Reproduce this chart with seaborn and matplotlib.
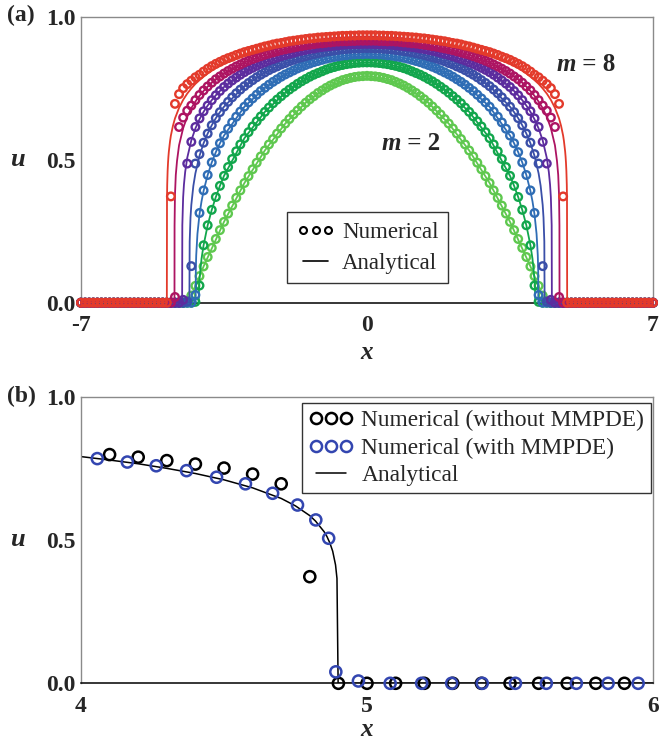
import numpy as np
import pandas as pd
import seaborn as sns
import matplotlib.pyplot as plt
from matplotlib.lines import Line2D

# ---------------- data ----------------
m_values = [2, 3, 4, 5, 6, 7, 8]
colors = ["#5fc84f", "#12a64c", "#2f6db5", "#3a4fa8", "#5c2c9e", "#ad1462", "#e33a2b"]

# numerical solution on the uniform grid, x >= 0 half (x = 0.0, 0.1, 0.2, ...);
# the profiles are symmetric about x = 0 and zero beyond the listed points
num_m2 = [0.794, 0.793, 0.792, 0.790, 0.787, 0.783, 0.779, 0.773, 0.767, 0.760,
          0.752, 0.743, 0.734, 0.723, 0.712, 0.700, 0.687, 0.673, 0.659, 0.643,
          0.627, 0.610, 0.592, 0.573, 0.554, 0.533, 0.512, 0.490, 0.467, 0.443,
          0.419, 0.393, 0.367, 0.340, 0.312, 0.283, 0.254, 0.223, 0.192, 0.160,
          0.127, 0.093, 0.059, 0.025, 0.004]
num_m3 = [0.841, 0.841, 0.840, 0.839, 0.837, 0.835, 0.832, 0.829, 0.825, 0.821,
          0.816, 0.810, 0.804, 0.798, 0.791, 0.783, 0.775, 0.766, 0.756, 0.746,
          0.735, 0.723, 0.711, 0.698, 0.683, 0.668, 0.652, 0.635, 0.617, 0.597,
          0.576, 0.554, 0.530, 0.503, 0.475, 0.444, 0.409, 0.370, 0.325, 0.271,
          0.201, 0.060, 0.003]
num_m4 = [0.871, 0.870, 0.870, 0.869, 0.868, 0.866, 0.865, 0.862, 0.860, 0.857,
          0.854, 0.850, 0.846, 0.842, 0.837, 0.832, 0.826, 0.820, 0.813, 0.806,
          0.799, 0.791, 0.782, 0.773, 0.763, 0.752, 0.741, 0.728, 0.715, 0.701,
          0.686, 0.669, 0.651, 0.631, 0.609, 0.585, 0.558, 0.527, 0.491, 0.447,
          0.393, 0.314, 0.027]
num_m5 = [0.891, 0.891, 0.890, 0.890, 0.889, 0.888, 0.887, 0.885, 0.883, 0.881,
          0.879, 0.876, 0.873, 0.870, 0.867, 0.863, 0.859, 0.855, 0.850, 0.845,
          0.839, 0.834, 0.827, 0.821, 0.814, 0.806, 0.798, 0.789, 0.779, 0.769,
          0.758, 0.746, 0.733, 0.719, 0.703, 0.686, 0.667, 0.646, 0.621, 0.592,
          0.560, 0.520, 0.487, 0.128, 0.004]
num_m6 = [0.906, 0.906, 0.905, 0.905, 0.904, 0.904, 0.903, 0.901, 0.900, 0.898,
          0.897, 0.895, 0.893, 0.890, 0.888, 0.885, 0.882, 0.879, 0.875, 0.871,
          0.867, 0.863, 0.858, 0.853, 0.848, 0.842, 0.836, 0.829, 0.822, 0.815,
          0.807, 0.798, 0.788, 0.778, 0.767, 0.755, 0.741, 0.726, 0.709, 0.690,
          0.670, 0.645, 0.615, 0.563, 0.487, 0.010]
num_m7 = [0.917, 0.917, 0.917, 0.916, 0.916, 0.915, 0.915, 0.914, 0.913, 0.911,
          0.910, 0.908, 0.907, 0.905, 0.903, 0.901, 0.898, 0.896, 0.893, 0.890,
          0.887, 0.884, 0.880, 0.876, 0.872, 0.868, 0.863, 0.858, 0.853, 0.847,
          0.841, 0.834, 0.827, 0.819, 0.811, 0.802, 0.792, 0.782, 0.770, 0.757,
          0.743, 0.727, 0.709, 0.690, 0.672, 0.648, 0.615, 0.020]
num_m8 = [0.936, 0.936, 0.936, 0.935, 0.935, 0.934, 0.934, 0.933, 0.932, 0.931,
          0.930, 0.929, 0.928, 0.926, 0.925, 0.923, 0.921, 0.919, 0.917, 0.915,
          0.912, 0.909, 0.907, 0.904, 0.900, 0.897, 0.893, 0.889, 0.885, 0.881,
          0.877, 0.872, 0.867, 0.861, 0.856, 0.850, 0.843, 0.836, 0.828, 0.819,
          0.809, 0.798, 0.789, 0.777, 0.765, 0.751, 0.730, 0.696, 0.372, 0.000]

# analytical profile, knots for x >= 0 (last knot is the front, where u = 0)
ana_x_m2 = [0.0, 0.5, 1.0, 1.5, 2.0, 2.5, 3.0, 3.5, 4.0, 4.364]
ana_u_m2 = [0.794, 0.783, 0.752, 0.700, 0.627, 0.533, 0.419, 0.283, 0.127, 0.0]
ana_x_m3 = [0.0, 0.5, 1.0, 1.5, 2.0, 2.5, 3.0, 3.5, 3.6, 3.7, 3.8, 3.9, 4.0, 4.05, 4.1, 4.11, 4.12]
ana_u_m3 = [0.841, 0.835, 0.816, 0.783, 0.735, 0.668, 0.576, 0.444, 0.409, 0.370,
            0.325, 0.271, 0.201, 0.154, 0.082, 0.057, 0.0]
ana_x_m4 = [0.0, 0.5, 1.0, 1.5, 2.0, 2.5, 3.0, 3.5, 3.6, 3.7, 3.8, 3.9, 4.0, 4.05, 4.1,
            4.15, 4.18, 4.19, 4.194]
ana_u_m4 = [0.871, 0.866, 0.854, 0.832, 0.799, 0.752, 0.686, 0.585, 0.558, 0.527,
            0.491, 0.447, 0.391, 0.355, 0.309, 0.241, 0.166, 0.112, 0.0]
ana_x_m5 = [0.0, 0.5, 1.0, 1.5, 2.0, 2.5, 3.0, 3.5, 3.6, 3.7, 3.8, 3.9, 4.0, 4.1, 4.2,
            4.25, 4.3, 4.32, 4.34, 4.347]
ana_u_m5 = [0.891, 0.888, 0.879, 0.863, 0.839, 0.806, 0.758, 0.686, 0.667, 0.646,
            0.621, 0.592, 0.558, 0.514, 0.453, 0.409, 0.342, 0.298, 0.214, 0.0]
ana_x_m6 = [0.0, 0.5, 1.0, 1.5, 2.0, 2.5, 3.0, 3.5, 3.6, 3.7, 3.8, 3.9, 4.0, 4.1, 4.2,
            4.3, 4.4, 4.45, 4.48, 4.5, 4.52, 4.525]
ana_u_m6 = [0.906, 0.904, 0.897, 0.885, 0.867, 0.842, 0.807, 0.755, 0.741, 0.726,
            0.709, 0.690, 0.668, 0.642, 0.610, 0.568, 0.507, 0.458, 0.414, 0.369, 0.271, 0.0]
ana_x_m7 = [0.0, 0.5, 1.0, 1.5, 2.0, 2.5, 3.0, 3.5, 3.6, 3.7, 3.8, 3.9, 4.0, 4.1, 4.2,
            4.3, 4.4, 4.5, 4.6, 4.65, 4.68, 4.7, 4.71, 4.712]
ana_u_m7 = [0.917, 0.915, 0.910, 0.901, 0.887, 0.868, 0.841, 0.802, 0.792, 0.782,
            0.770, 0.756, 0.741, 0.724, 0.704, 0.681, 0.651, 0.611, 0.551, 0.496,
            0.447, 0.378, 0.270, 0.0]
ana_x_m8 = [0.0, 0.5, 1.0, 1.5, 2.0, 2.5, 3.0, 3.5, 3.6, 3.7, 3.8, 3.9, 4.0, 4.1, 4.2,
            4.3, 4.4, 4.5, 4.6, 4.7, 4.75, 4.8, 4.82, 4.85, 4.86, 4.87, 4.88, 4.89,
            4.895, 4.899]
ana_u_m8 = [0.926, 0.924, 0.920, 0.913, 0.902, 0.887, 0.866, 0.836, 0.829, 0.821,
            0.812, 0.802, 0.791, 0.779, 0.766, 0.750, 0.732, 0.710, 0.682, 0.645,
            0.619, 0.585, 0.566, 0.529, 0.512, 0.490, 0.461, 0.413, 0.366, 0.0]

num_half = [num_m2, num_m3, num_m4, num_m5, num_m6, num_m7, num_m8]
ana_x_half = [ana_x_m2, ana_x_m3, ana_x_m4, ana_x_m5, ana_x_m6, ana_x_m7, ana_x_m8]
ana_u_half = [ana_u_m2, ana_u_m3, ana_u_m4, ana_u_m5, ana_u_m6, ana_u_m7, ana_u_m8]

# panel (b): moving-mesh (MMPDE) numerical points for m = 8
mm_x = [4.057, 4.162, 4.263, 4.369, 4.474, 4.575, 4.670, 4.757, 4.821, 4.866, 4.891,
        4.970, 5.081, 5.191, 5.296, 5.403, 5.519, 5.627, 5.732, 5.843, 5.948]
mm_u = [0.784, 0.772, 0.759, 0.742, 0.719, 0.696, 0.663, 0.622, 0.570, 0.506, 0.040,
        0.008, 0.0, 0.0, 0.0, 0.0, 0.0, 0.0, 0.0, 0.0, 0.0]

x_ticks_a = [-7, 0, 7]
x_ticklabels_a = ["-7", "0", "7"]
x_ticks_b = [4, 5, 6]
x_ticklabels_b = ["4", "5", "6"]
y_ticks = [0.0, 0.5, 1.0]
y_ticklabels = ["0.0", "0.5", "1.0"]

# uniform mesh of the numerical scheme
x_grid = np.round(np.arange(-70, 71) * 0.1, 1)
centre = 70


def full_profile(half):
    u = np.zeros(len(x_grid))
    n = len(half)
    u[centre:centre + n] = half
    u[centre - n + 1:centre + 1] = half[::-1]
    return u


def full_curve(xh, uh):
    xs = [-7.0] + [-v for v in xh[::-1]] + list(xh[1:]) + [7.0]
    us = [0.0] + list(uh[::-1]) + list(uh[1:]) + [0.0]
    return np.array(xs), np.array(us)


rows_num, rows_ana = [], []
for m, half, xh, uh in zip(m_values, num_half, ana_x_half, ana_u_half):
    u = full_profile(half)
    rows_num.append(pd.DataFrame({"x": x_grid, "u": u, "m": m}))
    xa, ua = full_curve(xh, uh)
    rows_ana.append(pd.DataFrame({"x": xa, "u": ua, "m": m}))
df_num = pd.concat(rows_num, ignore_index=True)
df_ana = pd.concat(rows_ana, ignore_index=True)

# ---------------- style ----------------
sns.set_theme(style="white")
plt.rcParams["font.family"] = ["Liberation Serif", "DejaVu Serif"]

W, H = 659, 743
fig = plt.figure(figsize=(W / 100, H / 100), dpi=100)
fig.patch.set_facecolor("white")
ax1 = fig.add_axes([81 / W, 1 - 302.7 / H, 572 / W, 285.7 / H])
ax2 = fig.add_axes([81 / W, 1 - 683.3 / H, 572 / W, 286.6 / H])

# ---------------- panel (a) ----------------
for i, (m, c) in enumerate(zip(m_values, colors)):
    da = df_ana[df_ana["m"] == m]
    dn = df_num[df_num["m"] == m]
    sns.lineplot(data=da, x="x", y="u", ax=ax1, color=c, lw=1.3, sort=False,
                 estimator=None, legend=False, zorder=2 + 2 * i)
    sns.scatterplot(data=dn, x="x", y="u", ax=ax1, marker="o", s=30,
                    facecolor="none", edgecolor=c, linewidth=1.7,
                    legend=False, clip_on=False, zorder=3 + 2 * i)

ax1.set_xlim(-7, 7)
ax1.set_ylim(0, 1)

# ---------------- panel (b) ----------------
d8 = df_num[(df_num["m"] == 8) & (df_num["x"] > 4.05) & (df_num["x"] < 5.95)]
xb = [v for v in ana_x_m8 if v >= 3.5] + [6.0]
ub = [u for v, u in zip(ana_x_m8, ana_u_m8) if v >= 3.5] + [0.0]
sns.lineplot(x=xb, y=ub, ax=ax2, color="black", lw=1.1, sort=False,
             estimator=None, legend=False, zorder=2)
sns.scatterplot(data=d8, x="x", y="u", ax=ax2, marker="o", s=64,
                facecolor="none", edgecolor="black", linewidth=1.8,
                legend=False, clip_on=False, zorder=3)
sns.scatterplot(x=mm_x, y=mm_u, ax=ax2, marker="o", s=64,
                facecolor="none", edgecolor="#3346b0", linewidth=1.8,
                legend=False, clip_on=False, zorder=4)
ax2.set_xlim(4, 6)
ax2.set_ylim(0, 1)

# ---------------- axes cosmetics ----------------
tick_font = dict(fontsize=17, fontweight="bold")
for ax, xt, xtl in [(ax1, x_ticks_a, x_ticklabels_a), (ax2, x_ticks_b, x_ticklabels_b)]:
    ax.set_xticks(xt)
    ax.set_xticklabels(xtl, **tick_font)
    ax.set_yticks(y_ticks)
    ax.set_yticklabels(y_ticklabels, **tick_font)
    ax.tick_params(axis="x", direction="in", length=4, width=1, color="#808080", pad=9)
    ax.tick_params(axis="y", direction="out", length=3, width=1, color="#808080", pad=1)
    for s in ["left", "top", "right"]:
        ax.spines[s].set_color("#8a8a8a")
        ax.spines[s].set_linewidth(1.0)
    ax.spines["bottom"].set_color("black")
    ax.spines["bottom"].set_linewidth(1.1)
    ax.set_xlabel("x", fontsize=18, fontstyle="italic", fontweight="bold")
    ax.set_ylabel("u", fontsize=19, fontstyle="italic", fontweight="bold",
                  rotation=0, va="center", ha="center")
    ax.yaxis.set_label_coords(-0.112, 0.5)
    ax.grid(False)

ax1.xaxis.set_label_coords(0.5, -0.134)
ax2.xaxis.set_label_coords(0.5, -0.121)

# panel tags
fig.text(7 / W, 1 - 15 / H, "(a)", fontsize=17, fontweight="bold", va="center", ha="left")
fig.text(7 / W, 1 - 396 / H, "(b)", fontsize=17, fontweight="bold", va="center", ha="left")

# m labels
for xm, ym, num in [(5.12, 0.811, "8"), (0.83, 0.534, "2")]:
    ax1.text(xm, ym, "m", fontsize=18, fontstyle="italic", fontweight="bold",
             ha="right", va="baseline", zorder=30)
    ax1.text(xm, ym, " = " + num, fontsize=18, fontweight="bold",
             ha="left", va="baseline", zorder=30)

# legends
h_num = Line2D([], [], ls="", marker="o", mfc="none", mec="black", ms=5, mew=1.5)
h_ana = Line2D([], [], color="black", lw=1.2)
leg1 = ax1.legend([h_num, h_ana], ["Numerical", "Analytical"], loc="upper left",
                  bbox_to_anchor=(0.36, 0.316), numpoints=3, fontsize=16.5,
                  frameon=True, fancybox=False, edgecolor="#333333", framealpha=1,
                  handlelength=1.7, handletextpad=0.3, labelspacing=0.45,
                  borderpad=0.4, borderaxespad=0)
leg1.get_frame().set_linewidth(1.0)
leg1.set_zorder(40)

h_no = Line2D([], [], ls="", marker="o", mfc="none", mec="black", ms=8, mew=1.8)
h_mm = Line2D([], [], ls="", marker="o", mfc="none", mec="#3346b0", ms=8, mew=1.8)
h_an = Line2D([], [], color="black", lw=1.1)
leg2 = ax2.legend([h_no, h_mm, h_an],
                  ["Numerical (without MMPDE)", "Numerical (with MMPDE)", "Analytical"],
                  loc="upper right", bbox_to_anchor=(0.997, 0.978), numpoints=3,
                  fontsize=16.8, frameon=True, fancybox=False, edgecolor="#333333",
                  framealpha=1, handlelength=1.9, handletextpad=0.35,
                  labelspacing=0.26, borderpad=0.3, borderaxespad=0)
leg2.get_frame().set_linewidth(1.0)

fig.savefig("out.png", dpi=100, facecolor="white")
